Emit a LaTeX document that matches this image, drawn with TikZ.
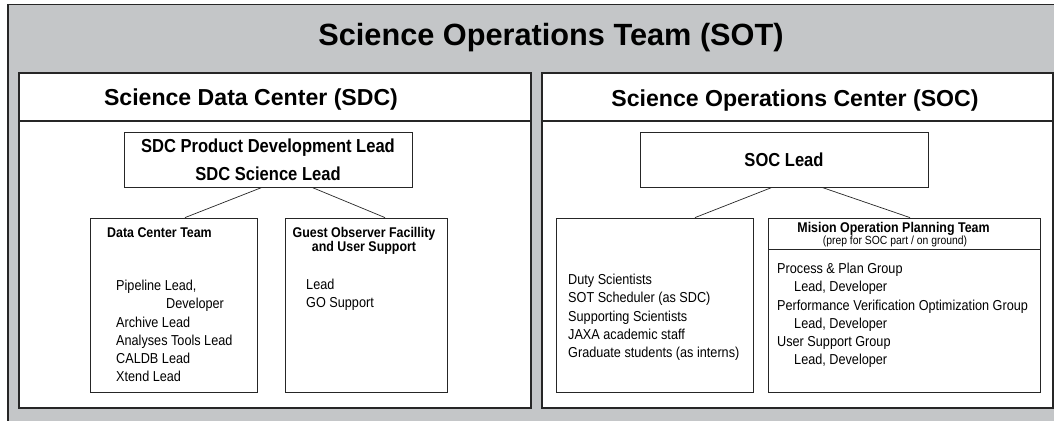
\documentclass[tikz,border=0pt]{standalone}
\usepackage{fontspec}
\setmainfont{Liberation Sans}
\newfontfamily\narrowfont[FakeStretch=0.88]{Liberation Sans}

\definecolor{sotgray}{RGB}{196,198,200}

\begin{document}
\begin{tikzpicture}[
    x=1pt, y=-1pt,
    panel/.style={rectangle, draw=black!85, fill=white, line width=1.3pt, inner sep=0pt},
    box/.style={rectangle, draw=black!85, fill=white, line width=0.8pt, inner sep=0pt},
    link/.style={draw=black!85, line width=0.7pt},
    heading/.style={font=\bfseries\fontsize{23.1}{27}\selectfont, inner sep=0pt, anchor=base},
    leadtext/.style={font=\narrowfont\bfseries\fontsize{18.8}{28}\selectfont, align=center},
    boxtitle/.style={font=\narrowfont\bfseries\fontsize{14.1}{14}\selectfont, inner sep=0pt},
    entries/.style={font=\narrowfont\fontsize{14.4}{18.2}\selectfont, align=left, inner sep=0pt, anchor=north west}
]
\useasboundingbox (0,0) rectangle (1054,420);
\clip (0,0) rectangle (1054,420);

% Outer frame
\node[rectangle, draw=black!85, fill=sotgray, line width=1.5pt, inner sep=0pt,
      minimum width=1060, minimum height=430, anchor=north west] (sot) at (7,4) {};
\node[heading, font=\bfseries\fontsize{30.7}{36}\selectfont] (sottitle) at (551,46) {Science Operations Team (SOT)};

% Science Data Center
\node[panel, minimum width=512, minimum height=335] (sdc) at (275,240.5) {};
\node[panel, minimum width=512, minimum height=48] (sdcband) at (275,97) {};
\node[heading] (sdctitle) at (251,105.5) {Science Data Center (SDC)};

\node[box, leadtext, minimum width=288, minimum height=55] (sdclead) at (268,159.5) {SDC Product Development Lead\\SDC Science Lead};
\node[box, minimum width=167, minimum height=174] (dcteam) at (173.5,305) {};
\node[box, minimum width=162, minimum height=174] (gof) at (366,305) {};

\node[boxtitle, anchor=base west] (dcttitle) at (107,237.5) {Data Center Team};
\node[boxtitle, anchor=north, align=center] (goftitle) at (364,227.2) {Guest Observer Facillity\\and User Support};
\node[entries] (dctlist) at (116,280.1) {Pipeline Lead,\\\hspace*{50pt}Developer\\Archive Lead\\Analyses Tools Lead\\CALDB Lead\\Xtend Lead};
\node[entries] (goflist) at (306,279.1) {Lead\\GO Support};

\draw[link] ([xshift=-6pt]sdclead.south) -- ([xshift=11.5pt]dcteam.north);
\draw[link] ([xshift=44pt]sdclead.south) -- ([xshift=19pt]gof.north);

% Science Operations Center
\node[panel, minimum width=511, minimum height=335] (soc) at (797.5,240.5) {};
\node[panel, minimum width=511, minimum height=48] (socband) at (797.5,97) {};
\node[heading] (soctitle) at (795,106) {Science Operations Center (SOC)};

\node[box, leadtext, minimum width=288, minimum height=55] (soclead) at (784,159.5) {SOC Lead};
\node[box, minimum width=197, minimum height=174] (socstaff) at (654.5,305) {};
\node[box, minimum width=272, minimum height=174] (mopt) at (904,305) {};
\node[box, minimum width=272, minimum height=31] (moptband) at (904,233.5) {};

\node[boxtitle, anchor=base] (mopttitle) at (893.5,232.5) {Mision Operation Planning Team};
\node[boxtitle, anchor=base, font=\narrowfont\fontsize{11.8}{12}\selectfont] (moptnote) at (895,244.5) {(prep for SOC part / on ground)};
\node[entries] (stafflist) at (568,274.1) {Duty Scientists\\SOT Scheduler (as SDC)\\Supporting Scientists\\JAXA academic staff\\Graduate students (as interns)};
\node[entries] (moptlist) at (777,263.1) {Process \& Plan Group\\\hspace*{17pt}Lead, Developer\\Performance Verification Optimization Group\\\hspace*{17pt}Lead, Developer\\User Support Group\\\hspace*{17pt}Lead, Developer};

\draw[link] ([xshift=-12pt]soclead.south) -- ([xshift=40.5pt]socstaff.north);
\draw[link] ([xshift=38pt]soclead.south) -- ([xshift=6pt]mopt.north);

\end{tikzpicture}
\end{document}
